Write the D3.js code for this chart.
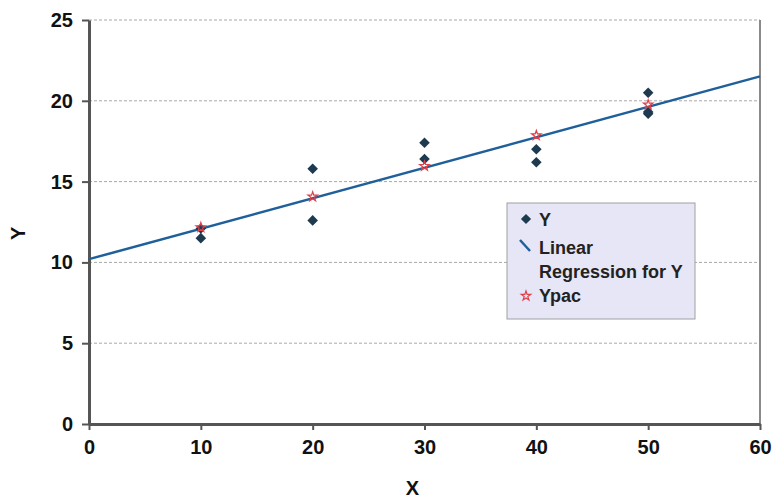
<!DOCTYPE html>
<html>
<head>
<meta charset="utf-8">
<script src="https://cdn.jsdelivr.net/npm/d3@7"></script>
<style>
  body { margin: 0; background: #fff; }
  text { font-family: "Liberation Sans", Arial, sans-serif; }
</style>
</head>
<body>
<div id="chart"></div>
<script>
const obsX = [10, 10, 20, 20, 30, 30, 40, 40, 50, 50, 50];
const obsY = [12.1, 11.5, 15.8, 12.6, 17.4, 16.4, 17.0, 16.2, 20.5, 19.3, 19.2];

// predicted values (Ypac)
const predX = [10, 20, 30, 40, 50];
const predY = [12.1, 14.0, 15.9, 17.8, 19.7];

// regression line: intercept and slope
const lineX = [0, 60];
const intercept = 10.2, slope = 0.1885;

const xTicks = [0, 10, 20, 30, 40, 50, 60];
const yTicks = [0, 5, 10, 15, 20, 25];

const W = 772, H = 498;
const margin = { top: 20, right: 12, bottom: 74, left: 89 };
const width = W - margin.left - margin.right,
    height = H - margin.top - margin.bottom;

const svg = d3.select("#chart").append("svg")
    .attr("width", W).attr("height", H);
const g = svg.append("g")
    .attr("transform", `translate(${margin.left},${margin.top})`);

const x = d3.scaleLinear().domain([0, 60]).range([0, width]);
const y = d3.scaleLinear().domain([0, 25]).range([height, 0]);

// dashed gridlines
g.selectAll(".grid")
    .data(yTicks.filter(d => d > 0))
    .enter().append("line")
    .attr("x1", 0).attr("x2", width)
    .attr("y1", d => y(d)).attr("y2", d => y(d))
    .attr("stroke", "#a8a8a8")
    .attr("stroke-width", 1)
    .attr("stroke-dasharray", "3,2");

// right border
g.append("line")
    .attr("x1", width).attr("x2", width)
    .attr("y1", 0).attr("y2", height)
    .attr("stroke", "#8a8a8a").attr("stroke-width", 2);

// axes
const xAxis = g.append("g")
    .attr("transform", `translate(0,${height})`)
    .call(d3.axisBottom(x).tickValues(xTicks).tickSize(6).tickPadding(10).tickSizeOuter(0));
const yAxis = g.append("g")
    .call(d3.axisLeft(y).tickValues(yTicks).tickSize(7).tickPadding(9).tickSizeOuter(0));

[xAxis, yAxis].forEach(a => {
    a.select(".domain").attr("stroke", "#555").attr("stroke-width", 3);
    a.selectAll(".tick line").attr("stroke", "#555").attr("stroke-width", 2);
    a.selectAll(".tick text")
        .attr("fill", "#111")
        .style("font-size", "20px")
        .style("font-weight", "bold")
        .style("font-family", "Liberation Sans, Arial, sans-serif");
});

// axis titles
svg.append("text")
    .attr("x", margin.left + x(30) - 12)
    .attr("y", 495)
    .attr("text-anchor", "middle")
    .style("font-size", "20px").style("font-weight", "bold")
    .attr("fill", "#111")
    .text("X");
svg.append("text")
    .attr("transform", `translate(25,${margin.top + y(11.8)}) rotate(-90)`)
    .attr("text-anchor", "middle")
    .style("font-size", "20px").style("font-weight", "bold")
    .attr("fill", "#111")
    .text("Y");

// regression line
const line = d3.line()
    .x(d => x(d))
    .y(d => y(intercept + slope * d));
g.append("path")
    .datum(lineX)
    .attr("fill", "none")
    .attr("stroke", "#1f5f9a")
    .attr("stroke-width", 2.5)
    .attr("d", line);

// observed points: diamonds (rotated squares)
const diamond = d3.symbol().type(d3.symbolSquare).size(56);
g.selectAll(".obs")
    .data(obsX.map((d, i) => [d, obsY[i]]))
    .enter().append("path")
    .attr("d", diamond)
    .attr("transform", d => `translate(${x(d[0])},${y(d[1])}) rotate(45)`)
    .attr("fill", "#1d3a4f");

// predicted points: small red stars
const star = d3.symbol().type(d3.symbolStar).size(28);
g.selectAll(".pred")
    .data(predX.map((d, i) => [d, predY[i]]))
    .enter().append("path")
    .attr("d", star)
    .attr("transform", d => `translate(${x(d[0])},${y(d[1]) - 1})`)
    .attr("fill", "none")
    .attr("stroke", "#e0404a")
    .attr("stroke-width", 1.2);

// legend
const lg = svg.append("g").attr("transform", "translate(507,203)");
lg.append("rect")
    .attr("width", 188).attr("height", 116)
    .attr("fill", "#e6e6f7")
    .attr("stroke", "#a0a0a0").attr("stroke-width", 1);
lg.append("path")
    .attr("d", d3.symbol().type(d3.symbolSquare).size(52))
    .attr("transform", "translate(19,16) rotate(45)")
    .attr("fill", "#1d3a4f");
lg.append("line")
    .attr("x1", 13).attr("y1", 37).attr("x2", 23).attr("y2", 48)
    .attr("stroke", "#1f5f9a").attr("stroke-width", 2.5);
lg.append("path")
    .attr("d", d3.symbol().type(d3.symbolStar).size(28))
    .attr("transform", "translate(19,93)")
    .attr("fill", "none").attr("stroke", "#e0404a").attr("stroke-width", 1.2);
const legendText = [["Y", 23], ["Linear", 51], ["Regression for Y", 75], ["Ypac", 99]];
lg.selectAll(".lt")
    .data(legendText)
    .enter().append("text")
    .attr("x", 32)
    .attr("y", d => d[1])
    .style("font-size", "18px").style("font-weight", "bold")
    .attr("fill", "#222")
    .text(d => d[0]);
</script>
</body>
</html>
